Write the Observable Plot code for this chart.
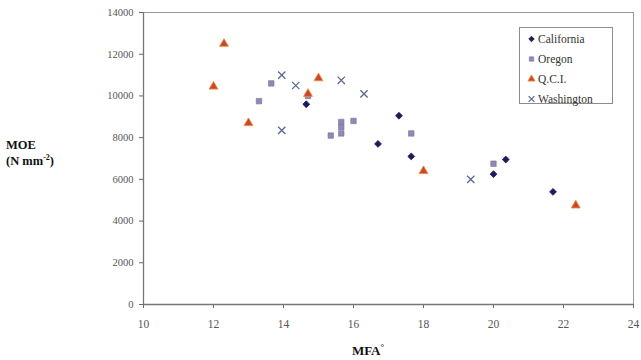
<!DOCTYPE html>
<html><head><meta charset="utf-8">
<script src="https://cdn.jsdelivr.net/npm/d3@7"></script>
<script src="https://cdn.jsdelivr.net/npm/@observablehq/plot@0.6"></script>
<style>
body{margin:0;background:#fff;}
#wrap{position:relative;width:641px;height:360px;font-family:"Liberation Serif","DejaVu Serif",serif;background:#fff;}
#chart svg text{font-family:"Liberation Serif","DejaVu Serif",serif !important;}
#ylab{position:absolute;left:6px;top:137px;font-weight:bold;font-size:12.5px;line-height:16px;color:#111;}
#ylab sup{font-size:8px;vertical-align:5px;line-height:0;}
#xlab{position:absolute;left:368px;top:342px;transform:translateX(-50%);font-weight:bold;font-size:13px;color:#111;white-space:nowrap;}
#legend{position:absolute;left:519px;top:27px;width:94px;height:77px;border:1px solid #8c8c8c;background:#fff;box-sizing:border-box;padding:1px 0 0 7px;font-size:11.5px;color:#333;font-family:"Liberation Serif",serif;}
#legend div{height:20px;display:flex;align-items:center;}
#legend svg{margin-right:2px;}
</style></head><body>
<div id="wrap"><div id="chart"></div>
<div id="ylab">MOE<br>(N mm<sup>-2</sup>)</div>
<div id="xlab">MFA<sup style="font-size:9px">°</sup></div>
<div id="legend"></div>
</div>
<script>
const seriesNames = ["California", "Oregon", "Q.C.I.", "Washington"];
const californiaMFA = [14.65, 16.7, 17.3, 17.65, 20.35, 20.0, 21.7];
const californiaMOE = [9600, 7700, 9050, 7100, 6950, 6250, 5400];
const oregonMFA = [13.3, 13.65, 14.7, 15.35, 15.65, 15.65, 15.65, 16.0, 17.65, 20.0];
const oregonMOE = [9750, 10600, 10000, 8100, 8750, 8500, 8200, 8800, 8200, 6750];
const qciMFA = [12.0, 12.3, 13.0, 14.7, 15.0, 18.0, 22.35];
const qciMOE = [10450, 12500, 8700, 10100, 10850, 6400, 4750];
const washingtonMFA = [13.95, 14.35, 13.95, 15.65, 16.3, 19.35];
const washingtonMOE = [11000, 10500, 8350, 10750, 10100, 6000];
const xTicks = [10, 12, 14, 16, 18, 20, 22, 24];
const yTicks = [0, 2000, 4000, 6000, 8000, 10000, 12000, 14000];

const styles = {
  "California": {symbol: "diamond2", fill: "#1c1c5c", stroke: "#1c1c5c", r: 3.1, sw: 0.8},
  "Oregon": {symbol: "square", fill: "#9188b4", stroke: "#7c72a2", r: 3.1, sw: 0.6},
  "Q.C.I.": {symbol: "triangle", fill: "#c9472b", stroke: "#ef8a3c", r: 3.3, sw: 0.9},
  "Washington": {symbol: "times", fill: "none", stroke: "#5c6894", r: 3.4, sw: 1.3}
};
const arrs = [[californiaMFA, californiaMOE], [oregonMFA, oregonMOE], [qciMFA, qciMOE], [washingtonMFA, washingtonMOE]];
const data = seriesNames.map((s, i) => arrs[i][0].map((x, j) => ({series: s, mfa: x, moe: arrs[i][1][j]})));

const dotMarks = data.map((d, i) => {
  const st = styles[seriesNames[i]];
  return Plot.dot(d, {x: "mfa", y: "moe", symbol: () => st.symbol, r: st.r, fill: st.fill, stroke: st.stroke, strokeWidth: st.sw});
});

const serif = "'Liberation Serif', serif";
const chart = Plot.plot({
  width: 641, height: 360,
  marginLeft: 143, marginRight: 8, marginTop: 12, marginBottom: 56,
  style: {fontFamily: serif, fontSize: "11px", color: "#444", background: "#fff"},
  x: {domain: [10, 24], ticks: xTicks, label: null},
  y: {domain: [0, 14000], ticks: yTicks, label: null},
  symbol: {type: "identity"},
  marks: [
    Plot.frame({stroke: "#9a9a9a", strokeWidth: 1}),
    Plot.axisX({ticks: xTicks, tickFormat: d3.format("d"), tickSize: 4, tickPadding: 11, stroke: "#666", fill: "#555", fontSize: 11.5, fontFamily: serif}),
    Plot.axisY({ticks: yTicks, tickFormat: d3.format("d"), tickSize: 4, tickPadding: 6, stroke: "#666", fill: "#555", fontSize: 10.5, fontFamily: serif}),
    Plot.ruleY([0], {stroke: "#777", strokeWidth: 1.3}),
    Plot.ruleX([10], {stroke: "#777", strokeWidth: 1.3}),
    ...dotMarks
  ]
});
document.getElementById("chart").append(chart);

const leg = document.getElementById("legend");
const symMap = {diamond2: d3.symbolDiamond2, square: d3.symbolSquare, triangle: d3.symbolTriangle, times: d3.symbolTimes};
seriesNames.forEach(s => {
  const st = styles[s];
  const row = document.createElement("div");
  const r = st.r * 0.8;
  const path = d3.symbol(symMap[st.symbol], Math.PI * r * r)();
  row.innerHTML = `<svg width="9" height="10" viewBox="-4.5 -5 9 10"><path d="${path}" fill="${st.fill}" stroke="${st.stroke}" stroke-width="${st.sw}"/></svg><span>${s}</span>`;
  leg.append(row);
});
</script>
</body></html>
